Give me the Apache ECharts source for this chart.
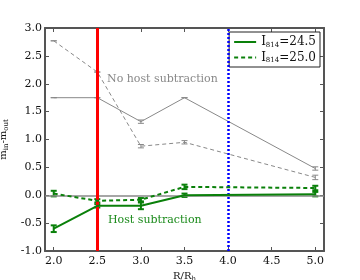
<!DOCTYPE html>
<html><head><meta charset="utf-8">
<script src="https://cdn.jsdelivr.net/npm/echarts@6/dist/echarts.min.js"></script>
<style>html,body{margin:0;padding:0;background:#fff}#c{width:360px;height:280px}</style>
</head><body><div id="c"></div>
<script>
var radii = [2.0, 2.5, 3.0, 3.5, 5.0];
var noHost245 = [1.75, 1.75, 1.32, 1.75, 0.48];
var noHost250 = [2.77, 2.21, 0.88, 0.95, 0.32];
var host245 = [-0.60, -0.19, -0.19, 0.00, 0.02];
var host250 = [0.03, -0.10, -0.08, 0.15, 0.13];
var errNoHost245 = [0.0, 0.0, 0.03, 0.0, 0.03];
var errNoHost250 = [0.0, 0.0, 0.03, 0.03, 0.04];
var errHost245 = [0.06, 0.03, 0.06, 0.03, 0.04];
var errHost250 = [0.05, 0.03, 0.03, 0.04, 0.04];
var xTicks = [2.0, 2.5, 3.0, 3.5, 4.0, 4.5, 5.0];

var FONT = 'DejaVu Serif';
function pts(ys){ return radii.map(function(x,i){ return [x, ys[i]]; }); }
function errData(ys, es){ return radii.map(function(x,i){ return [x, ys[i], es[i]]; }); }
function errSeries(ys, es, color, w){
  return {
    type: 'custom', silent: true, z: 4,
    data: errData(ys, es),
    renderItem: function(params, api){
      var x = api.value(0), y = api.value(1), e = api.value(2);
      var lo = api.coord([x, y - e]), hi = api.coord([x, y + e]);
      var cap = 3;
      return { type: 'group', children: [
        {type:'line', shape:{x1:lo[0],y1:lo[1],x2:hi[0],y2:hi[1]}, style:{stroke:color,lineWidth:w}},
        {type:'line', shape:{x1:lo[0]-cap,y1:lo[1],x2:lo[0]+cap,y2:lo[1]}, style:{stroke:color,lineWidth:w}},
        {type:'line', shape:{x1:hi[0]-cap,y1:hi[1],x2:hi[0]+cap,y2:hi[1]}, style:{stroke:color,lineWidth:w}}
      ]};
    }
  };
}
var axisCol = '#555';
var chart = echarts.init(document.getElementById('c'));
chart.setOption({
  animation: false,
  grid: {left: 45, right: 36, top: 28, bottom: 29, outerBoundsMode: 'none', containLabel: false},
  legend: {
    right: 40, top: 32, orient: 'vertical',
    data: ['I814=24.5', 'I814=25.0'],
    itemWidth: 22, itemHeight: 10, itemGap: 3,
    padding: [4, 4, 3, 4],
    borderColor: '#222', borderWidth: 1, backgroundColor: '#fff', borderRadius: 0,
    itemStyle: {opacity: 0},
    formatter: function(n){ return n === 'I814=24.5' ? '{a|I}{s|814}{a|=24.5}' : '{a|I}{s|814}{a|=25.0}'; },
    textStyle: {fontFamily: FONT, color: '#111', rich: {
      a: {fontFamily: FONT, fontSize: 12, color: '#111'},
      s: {fontFamily: FONT, fontSize: 7, color: '#111', verticalAlign: 'bottom', padding: [6,0,0,0]}
    }}
  },
  xAxis: [{
    type: 'value', min: 1.9, max: 5.1,
    name: '{a|R/R}{s|h}', nameLocation: 'middle', nameGap: 14,
    nameTextStyle: {rich: {a:{fontFamily: FONT, fontSize: 10, color:'#111'}, s:{fontFamily: FONT, fontSize: 7, color:'#111', padding:[5,0,0,0]}}},
    axisLine: {show: true, onZero: false, lineStyle: {color: axisCol, width: 2}},
    axisTick: {inside: true, length: 4, customValues: xTicks, lineStyle: {color: axisCol}},
    axisLabel: {customValues: xTicks, margin: 5, fontFamily: FONT, fontSize: 11, color: '#111', formatter: function(v){ return v.toFixed(1); }},
    splitLine: {show: false}
  }, {
    type: 'value', min: 1.9, max: 5.1, position: 'top',
    axisLine: {show: true, onZero: false, lineStyle: {color: axisCol, width: 2}},
    axisTick: {inside: true, length: 4, customValues: xTicks, lineStyle: {color: axisCol}},
    axisLabel: {show: false}, splitLine: {show: false}
  }],
  yAxis: [{
    type: 'value', min: -1, max: 3, interval: 0.5,
    name: '{a|m}{s|in}{a|-m}{s|out}', nameLocation: 'middle', nameGap: 30, nameRotate: 90,
    nameTextStyle: {rich: {a:{fontFamily: FONT, fontSize: 10, color:'#111'}, s:{fontFamily: FONT, fontSize: 7, color:'#111', padding:[5,0,0,0]}}},
    axisLine: {show: true, onZero: false, lineStyle: {color: axisCol, width: 2}},
    axisTick: {inside: true, length: 4, lineStyle: {color: axisCol}},
    axisLabel: {margin: 3, fontFamily: FONT, fontSize: 11, color: '#111', formatter: function(v){ return v.toFixed(1); }},
    splitLine: {show: false}
  }, {
    type: 'value', min: -1, max: 3, interval: 0.5, position: 'right',
    axisLine: {show: true, onZero: false, lineStyle: {color: axisCol, width: 2}},
    axisTick: {inside: true, length: 4, lineStyle: {color: axisCol}},
    axisLabel: {show: false}, splitLine: {show: false}
  }],
  graphic: [
    {type: 'text', left: 107, top: 74, style: {text: 'No host subtraction', font: '11px "DejaVu Serif"', fill: '#888'}},
    {type: 'text', left: 108, top: 215, style: {text: 'Host subtraction', font: '11px "DejaVu Serif"', fill: '#1a8a1a'}}
  ],
  series: [
    {type: 'line', name: 'noHost245', data: pts(noHost245), symbol: 'none', z: 3,
     lineStyle: {color: '#888', width: 1}},
    {type: 'line', name: 'noHost250', data: pts(noHost250), symbol: 'none', z: 3,
     lineStyle: {color: '#888', width: 1, type: [4, 3]}},
    errSeries(noHost245, errNoHost245, '#888', 1),
    errSeries(noHost250, errNoHost250, '#888', 1),
    {type: 'line', name: 'I814=24.5', data: pts(host245), symbol: 'none', z: 5,
     itemStyle: {color: '#0a800a'},
     lineStyle: {color: '#0a800a', width: 2},
     markLine: {silent: true, symbol: 'none', label: {show: false}, animation: false,
       data: [
         {yAxis: 0, lineStyle: {color: '#888', width: 1.5, type: 'solid'}},
         {xAxis: 2.5, lineStyle: {color: '#ff0000', width: 3, type: 'solid'}},
         {xAxis: 4.0, lineStyle: {color: '#0000ff', width: 2.5, type: [2, 2]}}
       ]}},
    {type: 'line', name: 'I814=25.0', data: pts(host250), symbol: 'none', z: 5,
     itemStyle: {color: '#0a800a'},
     lineStyle: {color: '#0a800a', width: 2, type: [4, 3]}},
    errSeries(host245, errHost245, '#0a800a', 2),
    errSeries(host250, errHost250, '#0a800a', 2)
  ]
});
</script></body></html>
